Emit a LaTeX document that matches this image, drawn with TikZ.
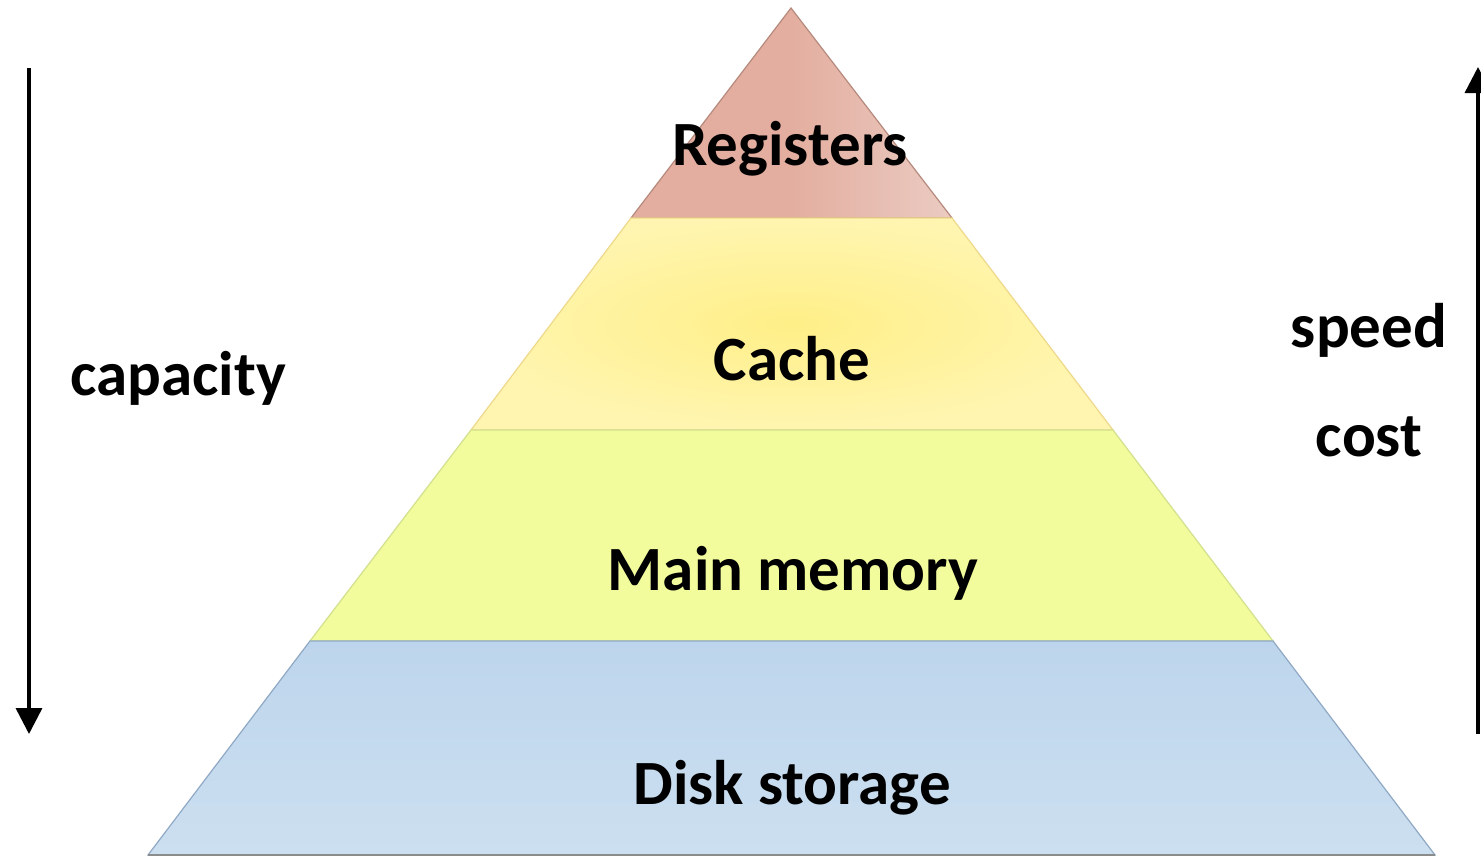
\documentclass[tikz,border=0pt]{standalone}
\usepackage{fontspec}
\setmainfont{Carlito}
\usetikzlibrary{arrows.meta}
\definecolor{regfill}{HTML}{E3AE9F}
\definecolor{regfillb}{HTML}{EBCBC2}
\definecolor{regline}{HTML}{B58A7D}
\definecolor{cachefill}{HTML}{FFEF88}
\definecolor{cachefillb}{HTML}{FFF5B0}
\definecolor{cacheline}{HTML}{EED98A}
\definecolor{mainfill}{HTML}{F2FC9C}
\definecolor{mainline}{HTML}{D3E08E}
\definecolor{diskfill}{HTML}{BDD5EC}
\definecolor{diskfillb}{HTML}{CCDFF0}
\definecolor{diskline}{HTML}{8FA9C4}
\tikzset{
  layerlabel/.style={anchor=base, inner sep=0pt, font=\fontsize{63}{75}\selectfont\bfseries},
  sidelabel/.style={anchor=base, inner sep=0pt, font=\fontsize{63}{75}\selectfont\bfseries},
  bigarrow/.style={line width=3.5pt, -{Triangle[length=26pt,width=26pt]}},
}
\begin{document}
\begin{tikzpicture}[x=1pt,y=-1pt]
\useasboundingbox (0,0) rectangle (1481,857);
\fill[white] (0,0) rectangle (1481,857);
% pyramid layers
\path[left color=regfill, right color=regfillb, middle color=regfill, draw=regline, line width=1.2pt]
  (791,8) -- (952,218) -- (631,218) -- cycle;
\path[inner color=cachefill, outer color=cachefillb, draw=cacheline, line width=1.2pt]
  (631,218) -- (952,218) -- (1113,430) -- (471,430) -- cycle;
\path[fill=mainfill, draw=mainline, line width=1.2pt]
  (471,430) -- (1113,430) -- (1273,641) -- (310,641) -- cycle;
\path[top color=diskfill, bottom color=diskfillb, draw=diskline, line width=1.2pt]
  (310,641) -- (1273,641) -- (1435,855) -- (148,855) -- cycle;
\draw[color=black!45, line width=1.5pt] (148,855) -- (1435,855);
% labels
\node[layerlabel] (reg) at (790,165) {Registers};
\node[layerlabel] (cache) at (792,380) {Cache};
\node[layerlabel] (mainm) at (793,590) {Main memory};
\node[layerlabel] (disk) at (792,804) {Disk storage};
\node[sidelabel] (capacity) at (178,395) {capacity};
\node[sidelabel] (speed) at (1369,347) {speed};
\node[sidelabel] (cost) at (1369,456) {cost};
% arrows
\coordinate (capTop) at (29,68);
\coordinate (capBot) at (29,734);
\draw[bigarrow] (capTop) -- (capBot);
\coordinate (spdBot) at (1478,734);
\coordinate (spdTop) at (1478,67);
\draw[bigarrow] (spdBot) -- (spdTop);
\end{tikzpicture}
\end{document}
